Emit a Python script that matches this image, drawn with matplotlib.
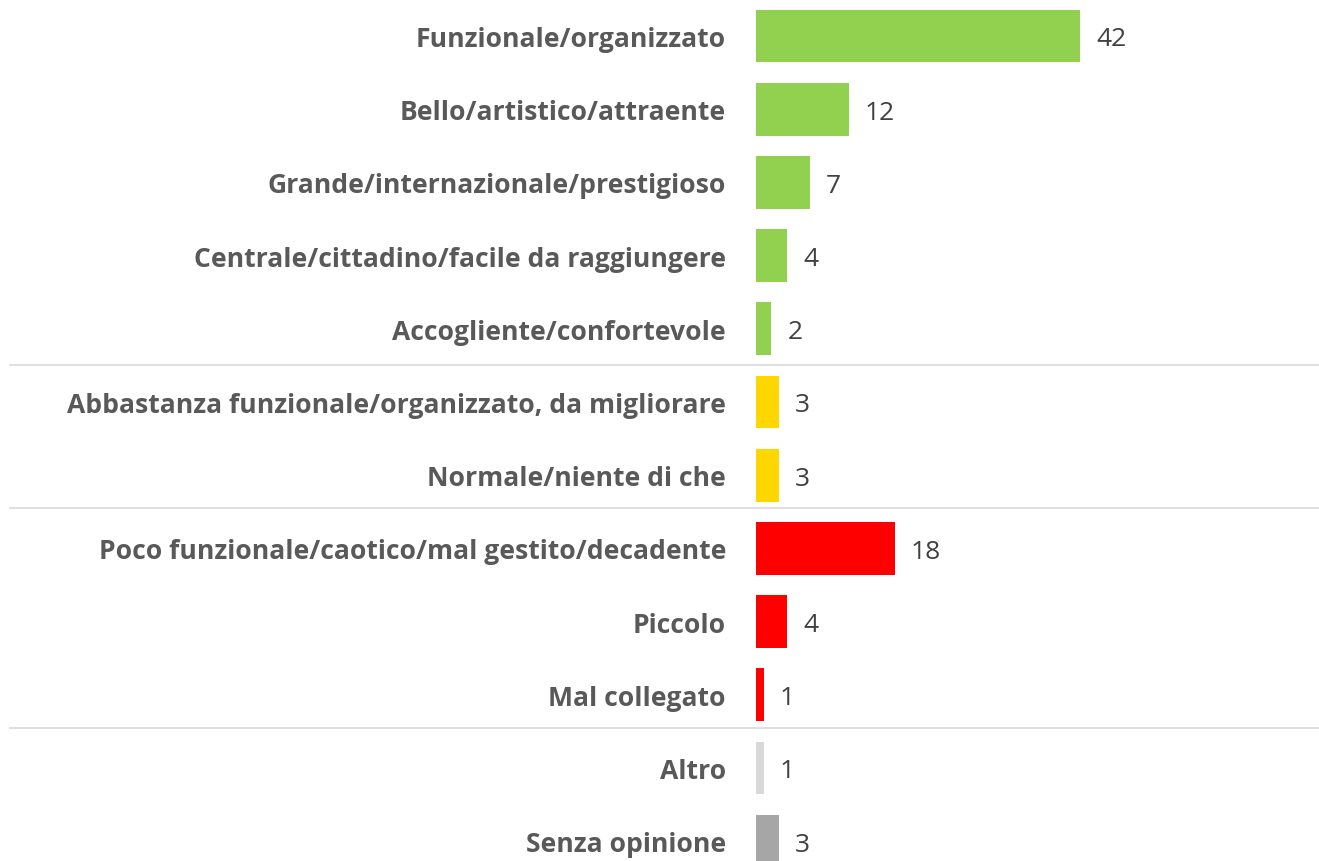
import matplotlib.pyplot as plt

# categories top to bottom
labels = [
    "Funzionale/organizzato",
    "Bello/artistico/attraente",
    "Grande/internazionale/prestigioso",
    "Centrale/cittadino/facile da raggiungere",
    "Accogliente/confortevole",
    "Abbastanza funzionale/organizzato, da migliorare",
    "Normale/niente di che",
    "Poco funzionale/caotico/mal gestito/decadente",
    "Piccolo",
    "Mal collegato",
    "Altro",
    "Senza opinione",
]
values = [42, 12, 7, 4, 2, 3, 3, 18, 4, 1, 1, 3]
colors = ["#92D050"] * 5 + ["#FFD700"] * 2 + ["#FF0000"] * 3 + ["#D9D9D9", "#A6A6A6"]
separators = [4.5, 6.45, 9.45]

W, H = 1319, 862
fig = plt.figure(figsize=(W / 100, H / 100), dpi=100)
x0 = 756
ax = fig.add_axes([x0 / W, 0, (W - x0) / W, 1])

ypos = list(range(len(labels)))
ax.barh(ypos, values, height=0.72, color=colors)

px_per_unit = 7.72
ax.set_xlim(0, (W - x0) / px_per_unit)
step = 73.2
ax.set_ylim((H - 37) / step, -37 / step)

ax.set_yticks(ypos)
ax.set_yticklabels(labels, fontfamily="Open Sans", fontweight="bold",
                   fontsize=19.1, color="#595959")
ax.tick_params(axis="y", length=0, pad=21.6)
ax.set_xticks([])
for s in ax.spines.values():
    s.set_visible(False)

for y, v in zip(ypos, values):
    ax.text(v + 16 / px_per_unit, y + 0.04, str(v), va="center", ha="left",
            fontfamily="Open Sans", fontsize=19, color="#404040")

tr = ax.get_yaxis_transform()
for s in separators:
    ax.plot([(10 - x0) / (W - x0), 1], [s, s], transform=tr, clip_on=False,
            color="#D9D9D9", lw=1.2)

fig.savefig("out.png", dpi=100)
